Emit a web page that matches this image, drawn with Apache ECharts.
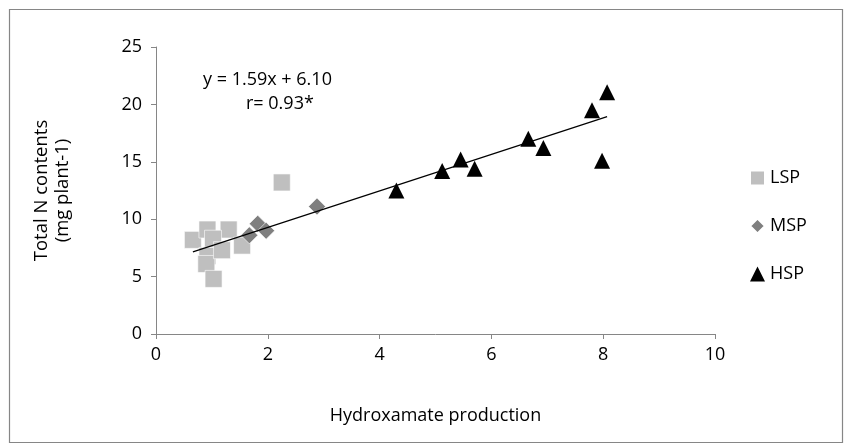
<!DOCTYPE html>
<html><head><meta charset="utf-8">
<script src="https://cdn.jsdelivr.net/npm/echarts@6/dist/echarts.min.js"></script>
<style>html,body{margin:0;padding:0;background:#fff}#c{width:852px;height:448px}</style>
</head><body><div id="c"></div>
<script>
const lspX = [0.66, 0.92, 1.30, 1.02, 0.92, 0.90, 1.18, 1.54, 1.03, 2.25];
const lspY = [8.2, 9.1, 9.1, 8.3, 6.8, 6.1, 7.3, 7.7, 4.8, 13.2];
const mspX = [1.82, 1.67, 1.97, 2.88];
const mspY = [9.6, 8.6, 9.0, 11.1];
const hspX = [4.30, 5.12, 5.45, 5.70, 6.66, 6.93, 7.80, 8.07, 7.98];
const hspY = [12.5, 14.2, 15.2, 14.4, 17.0, 16.2, 19.5, 21.05, 15.1];
const slope = 1.59, intercept = 6.10;
const trendX = [0.66, 8.07];
const eqText = ['y = 1.59x + 6.10', 'r= 0.93*'];
const xTitle = 'Hydroxamate production';
const yTitle = 'Total N contents\n(mg plant-1)';

const font = 'Open Sans';
const zip = (a, b) => a.map((v, i) => [v, b[i]]);
const chart = echarts.init(document.getElementById('c'));
chart.setOption({
  animation: false,
  textStyle: {fontFamily: font},
  grid: {left: 156, right: 137, top: 47, bottom: 114},
  xAxis: {
    type: 'value', min: 0, max: 10, interval: 2,
    splitLine: {show: false},
    axisLine: {lineStyle: {color: '#868686'}},
    axisTick: {show: true, length: 5, lineStyle: {color: '#868686'}},
    axisLabel: {color: '#000', fontSize: 18, margin: 12, fontFamily: font},
    name: xTitle, nameLocation: 'middle', nameGap: 73,
    nameTextStyle: {color: '#000', fontSize: 18, fontFamily: font}
  },
  yAxis: {
    type: 'value', min: 0, max: 25, interval: 5,
    splitLine: {show: false},
    axisLine: {show: true, lineStyle: {color: '#868686'}},
    axisTick: {show: true, length: 5, lineStyle: {color: '#868686'}},
    axisLabel: {color: '#000', fontSize: 18, margin: 14, fontFamily: font},
    name: yTitle, nameLocation: 'middle', nameGap: 83, nameRotate: 90,
    nameTextStyle: {color: '#000', fontSize: 18.5, lineHeight: 21, fontFamily: font}
  },
  legend: {
    orient: 'vertical', left: 744, top: 164, itemGap: 30,
    itemWidth: 15, itemHeight: 15,
    textStyle: {color: '#000', fontSize: 18, fontFamily: font},
    data: [{name: 'LSP', icon: 'rect'}, {name: 'MSP', icon: 'diamond'}, {name: 'HSP', icon: 'triangle'}]
  },
  series: [
    {name: 'LSP', type: 'scatter', symbol: 'rect', symbolSize: 17, data: zip(lspX, lspY),
     itemStyle: {color: '#BFBFBF', borderColor: '#fff', borderWidth: 0.6, opacity: 1}},
    {name: 'MSP', type: 'scatter', symbol: 'diamond', symbolSize: 17, data: zip(mspX, mspY),
     itemStyle: {color: '#7F7F7F', borderColor: '#fff', borderWidth: 0.6, opacity: 1}},
    {name: 'HSP', type: 'scatter', symbol: 'triangle', symbolSize: 16, data: zip(hspX, hspY),
     itemStyle: {color: '#000', opacity: 1}},
    {name: 'trend', type: 'line', data: trendX.map(x => [x, slope * x + intercept]),
     symbol: 'none', lineStyle: {color: '#000', width: 1.2}, z: 5, silent: true}
  ],
  graphic: [
    {type: 'rect', shape: {x: 9.5, y: 9.5, width: 833, height: 433},
     style: {fill: 'none', stroke: '#868686', lineWidth: 1.2}},
    {type: 'text', left: 203, top: 71, style: {text: eqText[0], font: '18px "Open Sans"', fill: '#000'}},
    {type: 'text', left: 246, top: 95, style: {text: eqText[1], font: '18px "Open Sans"', fill: '#000'}}
  ]
});
</script></body></html>
